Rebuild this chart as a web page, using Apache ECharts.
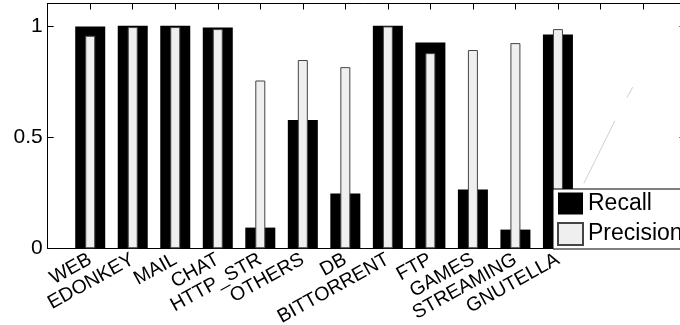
<!DOCTYPE html>
<html>
<head>
<meta charset="utf-8">
<script src="https://cdn.jsdelivr.net/npm/echarts@6/dist/echarts.min.js"></script>
<style>html,body{margin:0;padding:0;background:#fff;}#c{width:680px;height:325px;}</style>
</head>
<body>
<div id="c"></div>
<script>
var categories = ['WEB','EDONKEY','MAIL','CHAT','HTTP_STR','OTHERS','DB','BITTORRENT','FTP','GAMES','STREAMING','GNUTELLA'];
var recall =    [0.997, 1.0, 1.0, 0.992, 0.093, 0.576, 0.246, 1.0, 0.925, 0.264, 0.084, 0.961];
var precision = [0.955, 0.994, 0.994, 0.985, 0.754, 0.846, 0.814, 0.997, 0.877, 0.891, 0.922, 0.985];
var yTicks = [0, 0.5, 1];
var strayLineA = [[12.61, 0.292], [13.34, 0.573]];
var strayLineB = [[13.62, 0.676], [13.76, 0.724]];

var font = 'Liberation Sans';
var chart = echarts.init(document.getElementById('c'));
function pts(vals){ return vals.map(function(v,i){ return [i+1, v]; }); }
var axLine = { show: true, onZero: false, lineStyle: { color: '#000', width: 1 } };
var axTick = { show: true, inside: true, length: 6, lineStyle: { color: '#000' } };
function stray(d){
  return { name: 'stray', type: 'line', xAxisIndex: 0, yAxisIndex: 0, data: d,
    symbol: 'none', silent: true, lineStyle: { color: '#c4c4c4', width: 0.8 } };
}
chart.setOption({
  animation: false,
  backgroundColor: '#fff',
  grid: { left: 47.7, top: 3.5, right: -5.5, bottom: 76.7, containLabel: false, outerBoundsMode: 'none' },
  xAxis: [{
    type: 'value', min: 0, max: 15, interval: 1, position: 'bottom',
    axisLine: axLine, axisTick: axTick, splitLine: { show: false },
    axisLabel: {
      rotate: 29, margin: 10, fontFamily: font, fontSize: 19.5, color: '#000',
      formatter: function(v){ return (v >= 1 && v <= categories.length && v === Math.round(v)) ? categories[v-1] : ''; }
    }
  }, {
    type: 'value', min: 0, max: 15, interval: 1, position: 'top',
    axisLine: axLine, axisTick: axTick, splitLine: { show: false },
    axisLabel: { show: false }
  }],
  yAxis: [{
    type: 'value', min: 0, max: 1.1, interval: 0.5, position: 'left',
    axisLine: axLine, axisTick: axTick, splitLine: { show: false },
    axisLabel: { margin: 5, fontFamily: font, fontSize: 21, color: '#000', showMaxLabel: false,
      formatter: function(v){ return yTicks.indexOf(v) >= 0 ? String(v) : ''; } }
  }, {
    type: 'value', min: 0, max: 1.1, interval: 0.5, position: 'right',
    axisLine: axLine, axisTick: axTick, splitLine: { show: false },
    axisLabel: { show: false }
  }],
  legend: {
    left: 553, top: 189, orient: 'vertical',
    backgroundColor: '#fff', borderColor: '#000', borderWidth: 1,
    padding: [3, 60, 3, 4], itemWidth: 25, itemHeight: 22, itemGap: 7,
    textStyle: { fontFamily: font, fontSize: 23, color: '#000', lineHeight: 22 },
    data: [{ name: 'Recall', icon: 'rect' }, { name: 'Precision', icon: 'rect' }]
  },
  series: [{
    name: 'Recall', type: 'bar', xAxisIndex: 0, yAxisIndex: 0,
    data: pts(recall), barWidth: 30,
    itemStyle: { color: '#000' }
  }, {
    name: 'Precision', type: 'bar', xAxisIndex: 1, yAxisIndex: 0,
    data: pts(precision), barWidth: 10,
    itemStyle: { color: '#efefef', borderColor: '#444', borderWidth: 1 }
  }, stray(strayLineA), stray(strayLineB)]
});
</script>
</body>
</html>
